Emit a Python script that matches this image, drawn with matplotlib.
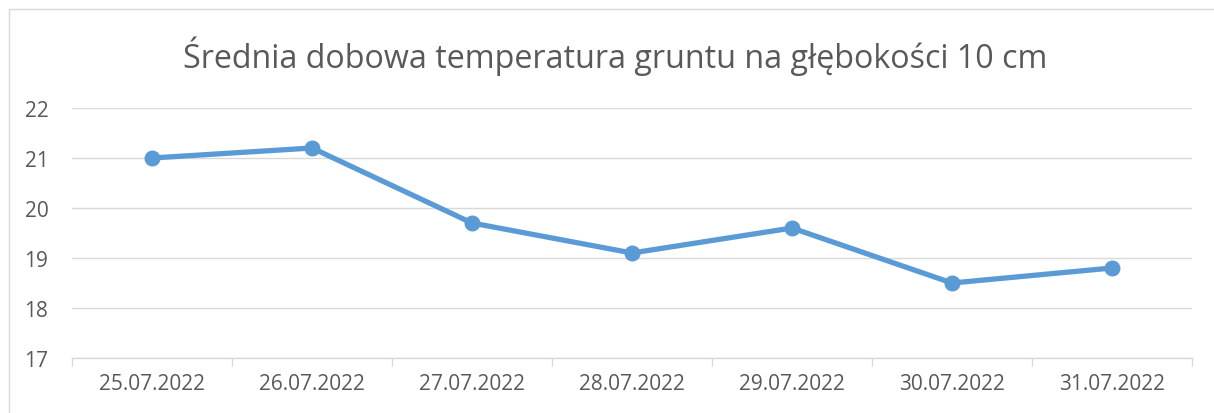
import matplotlib
matplotlib.use("Agg")
import matplotlib.pyplot as plt
from matplotlib.patches import Rectangle

dates = ["25.07.2022", "26.07.2022", "27.07.2022", "28.07.2022",
         "29.07.2022", "30.07.2022", "31.07.2022"]
temps = [21.0, 21.2, 19.7, 19.1, 19.6, 18.5, 18.8]
yticks = [17, 18, 19, 20, 21, 22]
title = "Średnia dobowa temperatura gruntu na głębokości 10 cm"

W, H = 1214, 414
fig = plt.figure(figsize=(W / 100, H / 100), dpi=100)
fig.patch.set_facecolor("white")

# chart border (light gray), top and left visible
fig.add_artist(Rectangle((9 / W, -0.1), 1.2, (H - 10) / H + 0.1,
                         transform=fig.transFigure, fill=False,
                         edgecolor="#D9D9D9", linewidth=1.0))

ax = fig.add_axes([72 / W, (H - 359) / H, (1192 - 72) / W, (359 - 109) / H])
x = list(range(len(dates)))
ax.plot(x, temps, color="#5B9BD5", linewidth=3.8, marker="o",
        markersize=10.5, solid_capstyle="round", zorder=3)

ax.set_xlim(-0.5, len(dates) - 0.5)
ax.set_ylim(17, 22)
ax.set_yticks(yticks)
ax.set_yticklabels([str(v) for v in yticks])
ax.set_xticks(x)
ax.set_xticklabels(dates)
ax.set_xticks([i - 0.5 for i in range(len(dates) + 1)], minor=True)

for s in ["top", "right", "left"]:
    ax.spines[s].set_visible(False)
ax.spines["bottom"].set_color("#D9D9D9")
ax.spines["bottom"].set_linewidth(1.0)

ax.grid(axis="y", color="#D9D9D9", linewidth=1.0)
ax.set_axisbelow(True)

ax.tick_params(axis="y", length=0, pad=17, labelsize=15, labelcolor="#595959")
ax.tick_params(axis="x", which="major", length=0, pad=11, labelsize=15,
               labelcolor="#595959")
ax.tick_params(axis="x", which="minor", length=6, width=1.0, color="#D9D9D9")
for lab in ax.get_xticklabels() + ax.get_yticklabels():
    lab.set_fontfamily("Open Sans")

fig.text(615 / W, 1 - 56 / H, title, ha="center", va="center",
         fontsize=23.2, color="#595959", fontfamily="Open Sans")

fig.savefig("out.png", dpi=100)
